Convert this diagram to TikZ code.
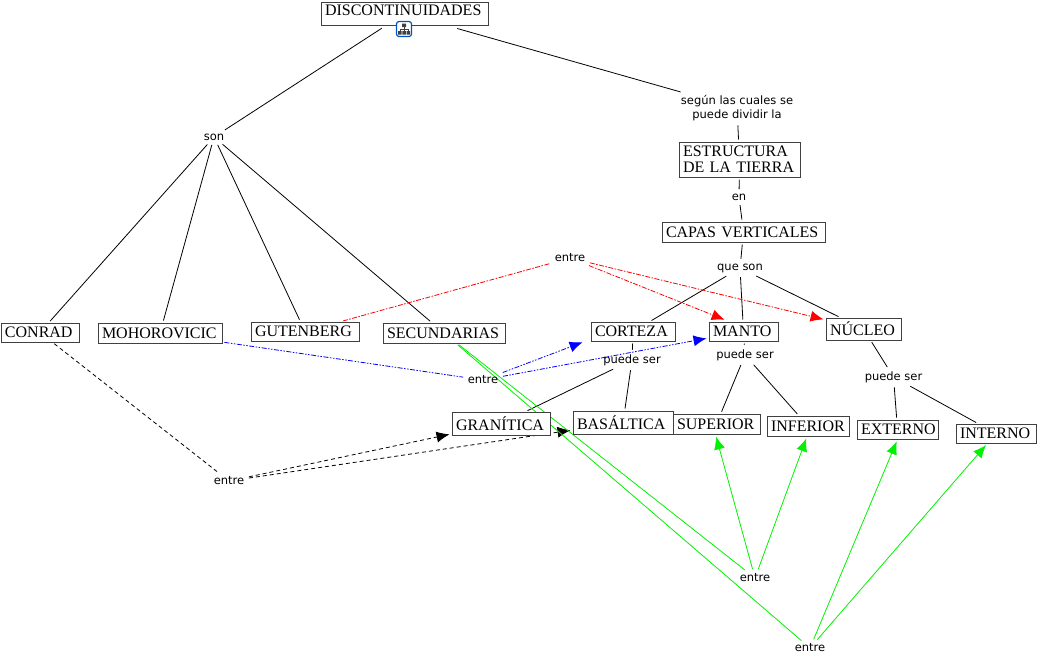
\documentclass[tikz,border=0pt]{standalone}
\usepackage{fontspec}
\setmainfont{Liberation Serif}
\newfontfamily\labelfont{DejaVu Sans}
\usetikzlibrary{arrows.meta, backgrounds}

\tikzset{
  concept/.style={draw=black!75, line width=1pt, fill=white, inner ysep=0pt, inner xsep=4pt, align=left, font=\fontsize{16}{16}\selectfont},
  linking/.style={inner sep=2.5pt, align=center, font=\labelfont\fontsize{11.5}{14}\selectfont},
  link/.style={black, line width=0.8pt, shorten <=2pt, shorten >=2pt},
  tipped/.style={-{Latex[length=13pt, width=11pt]}, line width=0.8pt, shorten <=2pt, shorten >=2pt},
  redline/.style={red, dash pattern=on 5pt off 1.5pt on 1.5pt off 1.5pt},
  blueline/.style={blue, dash pattern=on 5pt off 1.5pt on 1.5pt off 1.5pt on 1.5pt off 1.5pt},
  blackline/.style={dash pattern=on 4pt off 3pt},
  greenline/.style={green!95!black}
}

\begin{document}
\begin{tikzpicture}[x=1pt, y=-1pt]
  \useasboundingbox (0,0) rectangle (1038,654);

  % Concepts
  \node[concept, text width=159pt, minimum height=23pt, text depth=6pt] (disc) at (404.5,13.5) {DISCONTINUIDADES};
  \node[concept, text width=113pt, minimum height=35pt] (estructura) at (739.5,159.5) {ESTRUCTURA\\[0pt]DE LA TIERRA};
  \node[concept, text width=155pt, minimum height=20pt] (capas) at (743.5,232) {CAPAS VERTICALES};
  \node[concept, text width=70pt, minimum height=19pt] (conrad) at (40,332.5) {CONRAD};
  \node[concept, text width=116pt, minimum height=20pt] (moho) at (160,333) {MOHOROVICIC};
  \node[concept, text width=100pt, minimum height=19pt] (guten) at (305,331.5) {GUTENBERG};
  \node[concept, text width=114pt, minimum height=20pt] (secund) at (444,333) {SECUNDARIAS};
  \node[concept, text width=76pt, minimum height=19pt] (corteza) at (633,331.5) {CORTEZA};
  \node[concept, text width=61pt, minimum height=19pt] (manto) at (743.5,331.5) {MANTO};
  \node[concept, text width=67pt, minimum height=22pt] (nucleo) at (863.5,329) {NÚCLEO};
  \node[concept, text width=90pt, minimum height=23pt] (granitica) at (501,423.5) {GRANÍTICA};
  \node[concept, text width=92pt, minimum height=23pt] (basaltica) at (623,422.5) {BASÁLTICA};
  \node[concept, text width=79pt, minimum height=20pt] (superior) at (716.5,424) {SUPERIOR};
  \node[concept, text width=74pt, minimum height=20pt] (inferior) at (808,426) {INFERIOR};
  \node[concept, text width=73pt, minimum height=19pt] (externo) at (897.5,429.5) {EXTERNO};
  \node[concept, text width=72pt, minimum height=19pt] (interno) at (996,433.5) {INTERNO};

  % Linking phrases
  \node[linking] (segun) at (737,108) {según las cuales se\\puede dividir la};
  \node[linking] (son) at (214,137) {son};
  \node[linking] (en) at (739,197) {en};
  \node[linking] (queson) at (740,268) {que son};
  \node[linking] (entrered) at (570,258) {entre};
  \node[linking] (entreblue) at (483,380) {entre};
  \node[linking] (entreblack) at (229,481) {entre};
  \node[linking] (puedea) at (632,360) {puede ser};
  \node[linking] (puedeb) at (745,355) {puede ser};
  \node[linking] (puedec) at (893.5,377) {puede ser};
  \node[linking] (entregreena) at (755,578) {entre};
  \node[linking] (entregreenb) at (810,648) {entre};

  % Icon under the root concept
  \node[draw=blue!60!cyan!80!black, line width=1.2pt, fill=white, rounded corners=2.5pt, minimum size=15pt, inner sep=0pt] (icon) at (404,29) {};
  \fill[black!75] ([shift={(-2,-5.5)}]icon.center) rectangle ++(4,3.5)
    ([shift={(-6,2)}]icon.center) rectangle ++(3.5,3.5)
    ([shift={(-1.7,2)}]icon.center) rectangle ++(3.5,3.5)
    ([shift={(2.5,2)}]icon.center) rectangle ++(3.5,3.5);
  \draw[black!75, line width=0.6pt] ([shift={(0,-2)}]icon.center) -- ++(0,4)
    ([shift={(-4.2,2)}]icon.center) -- ++(0,-2) -- ++(8.4,0) -- ++(0,2);

  \begin{scope}[on background layer]
    % Plain links
    \draw[link, shorten <=5pt] (disc) -- (son);
    \draw[link, shorten <=11pt] (disc) -- (segun);
    \draw[link] (segun) -- (estructura);
    \draw[link] (estructura) -- (en);
    \draw[link] (en) -- (capas);
    \draw[link] (capas) -- (queson);
    \foreach \target in {corteza, manto, nucleo}{
      \draw[link] (queson) -- (\target);
    }
    \foreach \target in {conrad, moho, guten, secund}{
      \draw[link] (son) -- (\target);
    }
    \draw[link] (corteza) -- (puedea);
    \foreach \target in {granitica, basaltica}{
      \draw[link] (puedea) -- (\target);
    }
    \draw[link] (manto) -- (puedeb);
    \foreach \target in {superior, inferior}{
      \draw[link] (puedeb) -- (\target);
    }
    \draw[link] (nucleo) -- (puedec);
    \foreach \target in {externo, interno}{
      \draw[link] (puedec) -- (\target);
    }

    % Cross links
    \draw[link, redline] (guten) -- (entrered);
    \draw[tipped, redline] (entrered) -- ([shift={(18,-1)}]manto.north west);
    \draw[tipped, redline] (entrered) -- (nucleo);
    \draw[link, blueline] (moho) -- (entreblue);
    \draw[tipped, blueline] (entreblue) -- ([shift={(-6,0)}]corteza.south west);
    \draw[tipped, blueline] (entreblue) -- (manto);
    \draw[link, blackline] (conrad) -- (entreblack);
    \foreach \target in {granitica, basaltica}{
      \draw[tipped, blackline] (entreblack) -- (\target);
    }
    \draw[link, greenline] (secund) -- (entregreena);
    \draw[link, greenline, shorten >=1pt] (secund) -- (entregreenb);
    \draw[tipped, greenline] (entregreena) -- ([xshift=-1pt]superior.south);
    \draw[tipped, greenline] (entregreena) -- ([xshift=-1pt]inferior.south);
    \draw[tipped, greenline] (entregreenb) -- (externo.south);
    \draw[tipped, greenline] (entregreenb) -- (interno);
  \end{scope}
\end{tikzpicture}
\end{document}
